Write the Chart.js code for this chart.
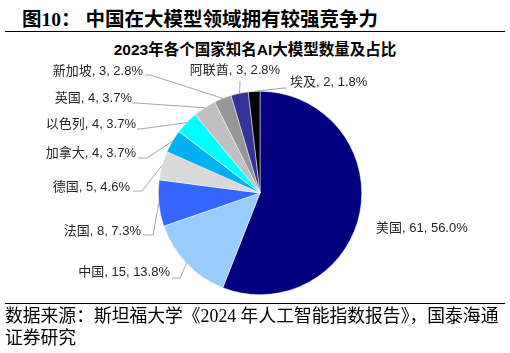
<!DOCTYPE html>
<html lang="zh">
<head>
  <meta charset="UTF-8">
  <title>2023年各个国家知名AI大模型数量及占比</title>
  <script src="https://cdn.jsdelivr.net/npm/chart.js"></script>
  <style>
    body { margin: 0; width: 510px; height: 353px; position: relative; background: #fff; overflow: hidden; }
    #fig { position: absolute; left: 22px; top: 3px; font: bold 19.5px "Liberation Serif", "Noto Sans CJK SC"; color: #000; white-space: nowrap; }
    .rule { position: absolute; left: 5px; width: 500px; height: 1px; background: #000; }
    #ttl { position: absolute; left: 0; width: 510px; top: 37px; text-align: center; font: bold 15.5px "Liberation Sans", "Noto Sans CJK SC"; color: #000; }
    #src { position: absolute; left: 5px; top: 305px; font: 17.8px/22px "Liberation Serif", "Noto Sans CJK SC"; color: #000; white-space: nowrap; }
    canvas { position: absolute; left: 0; top: 0; }
  </style>
</head>
<body>
  <div id="fig">图10：&nbsp;中国在大模型领域拥有较强竞争力</div>
  <div class="rule" style="top:31px"></div>
  <div id="ttl">2023年各个国家知名AI大模型数量及占比</div>
  <canvas id="pie" width="510" height="353"></canvas>
  <div class="rule" style="top:303px"></div>
  <div id="src">数据来源：斯坦福大学《2024 年人工智能指数报告》，国泰海通<br>证券研究</div>

  <script>
    // data
    const countries = ['美国', '中国', '法国', '德国', '加拿大', '以色列', '英国', '新加坡', '阿联酋', '埃及'];
    const models = [61, 15, 8, 5, 4, 4, 4, 3, 3, 2];
    const shares = ['56.0%', '13.8%', '7.3%', '4.6%', '3.7%', '3.7%', '3.7%', '2.8%', '2.8%', '1.8%'];
    const colors = ['#000080', '#99CCFF', '#3366FF', '#D9D9D9', '#00B0F0', '#00FFFF', '#C0C0C0', '#969696', '#333399', '#000000'];

    // label text anchor [x, y, align] and where the leader line meets it [x, y, elbow x] (null = no line)
    const labelAt = [
      [376, 228, 'left', null],
      [170, 272, 'right', [172, 278, 180]],
      [141, 231, 'right', [143, 235, 153]],
      [130, 187, 'right', [133, 191, 142]],
      [136, 153, 'right', [138, 158, 147]],
      [136, 124, 'right', [137, 129, 140]],
      [132, 98, 'right', [133, 103, 136]],
      [143, 71, 'right', [145, 75, 150]],
      [235, 70, 'center', [240, 81, 240]],
      [290, 82, 'left', [287, 88, 284]]
    ];

    const leaderLabels = {
      id: 'leaderLabels',
      afterDatasetsDraw(chart) {
        const ctx = chart.ctx;
        const arcs = chart.getDatasetMeta(0).data;
        ctx.save();
        ctx.font = '13px "Liberation Sans", "Noto Sans CJK SC"';
        ctx.textBaseline = 'middle';
        arcs.forEach((arc, i) => {
          const p = arc.getProps(['x', 'y', 'startAngle', 'endAngle', 'outerRadius'], true);
          const mid = (p.startAngle + p.endAngle) / 2;
          const ex = p.x + Math.cos(mid) * p.outerRadius;
          const ey = p.y + Math.sin(mid) * p.outerRadius;
          const [tx, ty, align, line] = labelAt[i];
          if (line) {
            ctx.strokeStyle = '#A6A6A6';
            ctx.lineWidth = 1;
            ctx.beginPath();
            ctx.moveTo(ex, ey);
            ctx.lineTo(line[2], line[1]);
            ctx.lineTo(line[0], line[1]);
            ctx.stroke();
          }
          ctx.fillStyle = '#262626';
          ctx.textAlign = align;
          ctx.fillText(countries[i] + ', ' + models[i] + ', ' + shares[i], tx, ty);
        });
        ctx.restore();
      }
    };

    new Chart(document.getElementById('pie'), {
      type: 'pie',
      data: {
        labels: countries,
        datasets: [{
          data: models,
          backgroundColor: colors,
          borderColor: '#ffffff',
          borderWidth: 0.5
        }]
      },
      options: {
        responsive: false,
        animation: false,
        layout: { padding: { left: 158, right: 148, top: 91, bottom: 58 } },
        plugins: {
          legend: { display: false },
          tooltip: { enabled: false }
        }
      },
      plugins: [leaderLabels]
    });
  </script>
</body>
</html>
